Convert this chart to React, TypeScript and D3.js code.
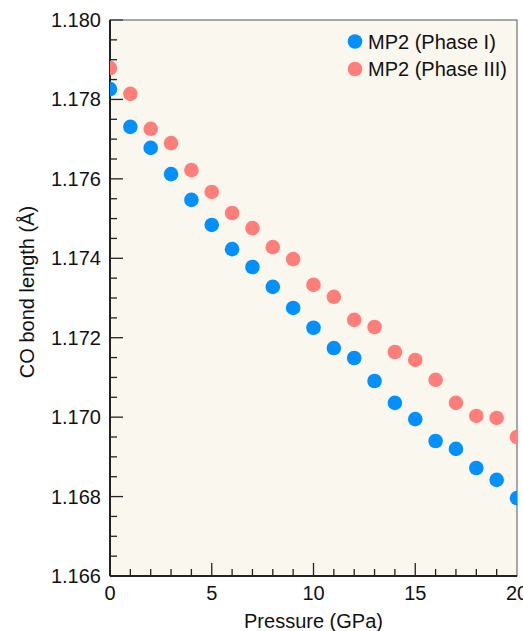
import React, { useRef, useEffect } from "react";
import * as d3 from "d3";

// pressure (GPa)
const pressures = [0, 1, 2, 3, 4, 5, 6, 7, 8, 9, 10, 11, 12, 13, 14, 15, 16, 17, 18, 19, 20];

// CO bond length (Å)
const phaseI = [
  1.17826, 1.17731, 1.17678, 1.17612, 1.17547, 1.17484, 1.17423, 1.17378, 1.17328, 1.17275,
  1.17225, 1.17174, 1.17149, 1.17091, 1.17036, 1.16995, 1.1694, 1.1692, 1.16872, 1.16842, 1.16796,
];
const phaseIII = [
  1.17879, 1.17814, 1.17726, 1.1769, 1.17622, 1.17567, 1.17514, 1.17476, 1.17428, 1.17398,
  1.17333, 1.17303, 1.17245, 1.17227, 1.17164, 1.17144, 1.17094, 1.17036, 1.17003, 1.16998, 1.1695,
];

const seriesNames = ["MP2 (Phase I)", "MP2 (Phase III)"];
const seriesColors = ["#0090ff", "#ff7e7a"];

const yTicks = [1.166, 1.168, 1.17, 1.172, 1.174, 1.176, 1.178, 1.18];
const xTicks = [0, 5, 10, 15, 20];

export default function App() {
  const ref = useRef<SVGSVGElement>(null);

  useEffect(() => {
    const W = 523,
      H = 631;
    const m = { top: 20, right: 6, bottom: 55, left: 110 };
    const w = W - m.left - m.right;
    const h = H - m.top - m.bottom;

    const svg = d3.select(ref.current).attr("width", W).attr("height", H);
    svg.selectAll("*").remove();

    const x = d3.scaleLinear().domain([0, 20]).range([0, w]);
    const y = d3.scaleLinear().domain([1.166, 1.18]).range([h, 0]);

    const font = "Liberation Sans, Arial, Helvetica, sans-serif";
    const fs = 20;
    const g = svg.append("g").attr("transform", `translate(${m.left},${m.top})`);

    g.append("clipPath").attr("id", "plot-clip").append("rect").attr("width", w).attr("height", h);

    g.append("rect").attr("width", w).attr("height", h).attr("fill", "#faf7ef");

    // minor + major ticks pointing inward
    const yMinor = d3.range(1.166, 1.18001, 0.0005);
    g.selectAll(".ymin")
      .data(yMinor)
      .enter()
      .append("line")
      .attr("x1", 0)
      .attr("x2", (d) => (yTicks.some((t) => Math.abs(t - d) < 1e-7) ? 13 : 7))
      .attr("y1", (d) => y(d))
      .attr("y2", (d) => y(d))
      .attr("stroke", "#222")
      .attr("stroke-width", 1.3);

    const xMinor = d3.range(1, 20, 1);
    g.selectAll(".xmin")
      .data(xMinor)
      .enter()
      .append("line")
      .attr("x1", (d) => x(d))
      .attr("x2", (d) => x(d))
      .attr("y1", h)
      .attr("y2", (d) => (d % 5 === 0 ? h - 13 : h - 7))
      .attr("stroke", "#222")
      .attr("stroke-width", 1.3);

    // frame
    g.append("rect")
      .attr("width", w)
      .attr("height", h)
      .attr("fill", "none")
      .attr("stroke", "#555")
      .attr("stroke-width", 1);
    g.append("line").attr("x1", 0).attr("x2", 0).attr("y1", 0).attr("y2", h).attr("stroke", "#222").attr("stroke-width", 2);
    g.append("line").attr("x1", 0).attr("x2", w).attr("y1", h).attr("y2", h).attr("stroke", "#222").attr("stroke-width", 2);

    // tick labels
    g.selectAll(".ylab")
      .data(yTicks)
      .enter()
      .append("text")
      .attr("x", -9)
      .attr("y", (d) => y(d))
      .attr("dy", "0.35em")
      .attr("text-anchor", "end")
      .attr("font-family", font)
      .attr("font-size", fs)
      .attr("fill", "#111")
      .text((d) => d3.format(".3f")(d));

    g.selectAll(".xlab")
      .data(xTicks)
      .enter()
      .append("text")
      .attr("x", (d) => x(d))
      .attr("y", h + 24)
      .attr("text-anchor", "middle")
      .attr("font-family", font)
      .attr("font-size", fs)
      .attr("fill", "#111")
      .text((d) => d);

    // axis titles
    g.append("text")
      .attr("x", w / 2)
      .attr("y", h + 52)
      .attr("text-anchor", "middle")
      .attr("font-family", font)
      .attr("font-size", fs)
      .attr("fill", "#111")
      .text("Pressure (GPa)");

    g.append("text")
      .attr("transform", `translate(${-76},${h / 2 - 6}) rotate(-90)`)
      .attr("text-anchor", "middle")
      .attr("font-family", font)
      .attr("font-size", fs)
      .attr("fill", "#111")
      .text("CO bond length (Å)");

    // points
    const pts = g.append("g").attr("clip-path", "url(#plot-clip)");
    [phaseI, phaseIII].forEach((vals, i) => {
      pts
        .append("g")
        .selectAll("circle")
        .data(vals)
        .enter()
        .append("circle")
        .attr("cx", (_, j) => x(pressures[j]))
        .attr("cy", (d) => y(d))
        .attr("r", 7.3)
        .attr("fill", seriesColors[i]);
    });

    // legend
    const leg = g.append("g").attr("transform", `translate(${245},${21.5})`);
    seriesNames.forEach((name, i) => {
      const row = leg.append("g").attr("transform", `translate(0,${i * 27.5})`);
      row.append("circle").attr("cx", 0).attr("cy", 0).attr("r", 7.3).attr("fill", seriesColors[i]);
      row
        .append("text")
        .attr("x", 13)
        .attr("y", 0)
        .attr("dy", "0.35em")
        .attr("font-family", font)
        .attr("font-size", fs)
        .attr("fill", "#111")
        .text(name);
    });
  }, []);

  return (
    <div style={{ position: "absolute", left: 0, top: 0 }}>
      <svg ref={ref}></svg>
    </div>
  );
}
